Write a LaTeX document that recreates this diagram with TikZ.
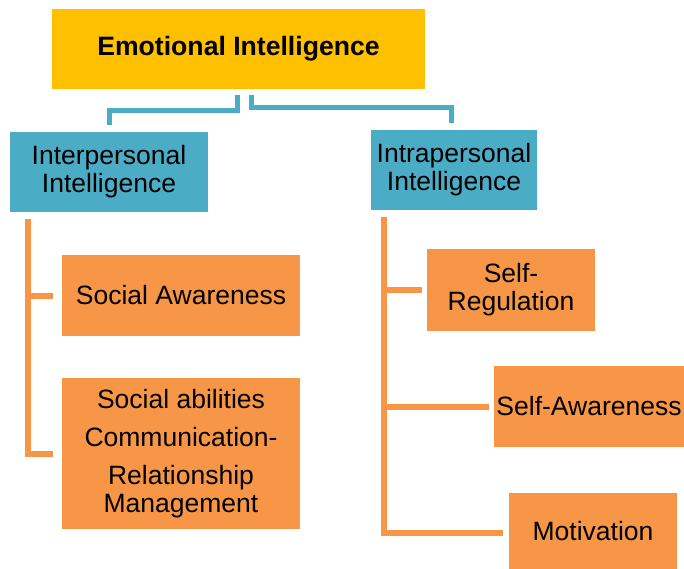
\documentclass[tikz,border=0pt]{standalone}
\usepackage{fontspec}
\setmainfont{Liberation Sans}
\definecolor{gold}{HTML}{FFC000}
\definecolor{tealb}{HTML}{4BACC6}
\definecolor{orng}{HTML}{F79646}
\begin{document}
\begin{tikzpicture}[x=1pt,y=-1pt,
  boxbase/.style={inner sep=0pt,outer sep=0pt,align=center,font=\fontsize{26.5}{28}\selectfont},
  topbox/.style={boxbase,fill=gold,font=\bfseries\fontsize{26.6}{28}\selectfont},
  midbox/.style={boxbase,fill=tealb},
  leafbox/.style={boxbase,fill=orng},
  bline/.style={draw=tealb,line width=5pt},
  oline/.style={draw=orng,line width=6pt}]
\useasboundingbox (0,0) rectangle (684,569);
\node[topbox,minimum width=373pt,minimum height=80pt] (ei) at (238.5,49) {Emotional Intelligence};
\node[midbox,minimum width=198pt,minimum height=80pt] (inter) at (109,172) {Interpersonal\\Intelligence};
\node[midbox,minimum width=166pt,minimum height=80pt] (intra) at (454,170) {Intrapersonal\\Intelligence};
\node[leafbox,minimum width=238pt,minimum height=81pt] (sa) at (181,295.5) {Social Awareness};
\node[leafbox,minimum width=238pt,minimum height=151pt] (sab) at (181,453.5) {Social abilities\\[10pt]Communication-\\[10pt]Relationship\\Management};
\node[leafbox,minimum width=168pt,minimum height=82pt] (sr) at (511,290) {Self-\\Regulation};
\node[leafbox,minimum width=190pt,minimum height=81pt] (saw) at (589,406.5) {Self-Awareness};
\node[leafbox,minimum width=168pt,minimum height=76pt] (mot) at (593,531) {Motivation};
% blue connectors
\coordinate (s1) at (237,95);
\coordinate (s2) at (251,95);
\coordinate (e1) at (109,125);
\coordinate (e2) at (451,123);
\draw[bline] (s1) -- (237,111) -| (e1);
\draw[bline] (s2) -- (251,108) -| (e2);
% left orange
\coordinate (lt) at (28,219);
\coordinate (la) at (53,296);
\coordinate (lb) at (53,454);
\draw[oline] (lt) -- (28,454) -- (lb);
\draw[oline] (28,296) -- (la);
% right orange
\coordinate (rt) at (384,217);
\coordinate (ra) at (422,290);
\coordinate (rb) at (489,407);
\coordinate (rc) at (503,533);
\draw[oline] (rt) -- (384,533) -- (rc);
\draw[oline] (384,290) -- (ra);
\draw[oline] (384,407) -- (rb);
\end{tikzpicture}
\end{document}
